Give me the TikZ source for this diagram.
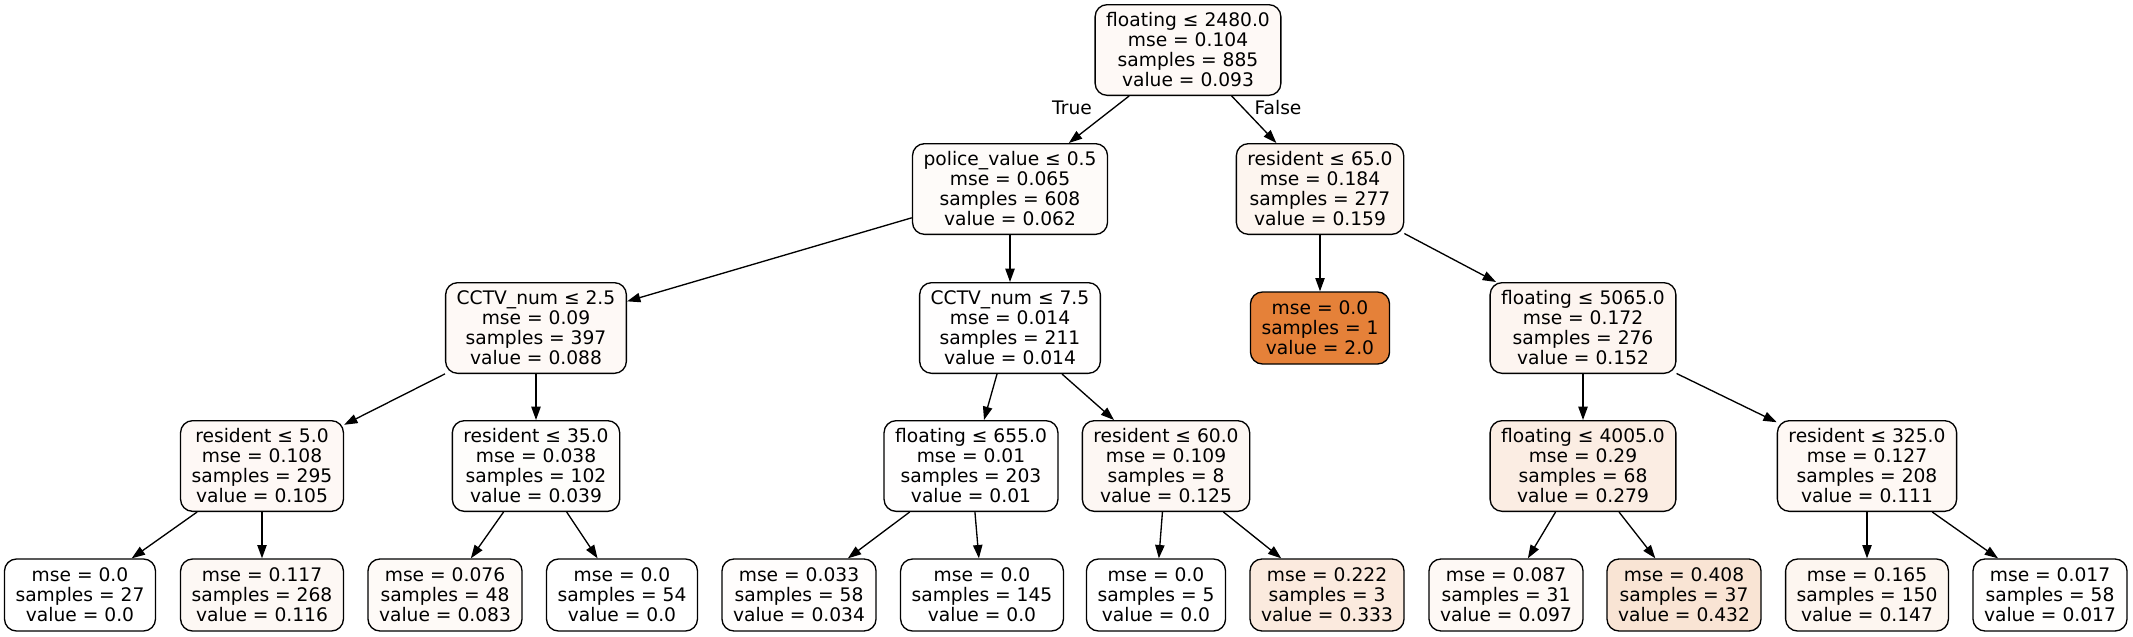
\documentclass[tikz,border=0pt]{standalone}
\usepackage{fontspec}
\setmainfont{DejaVu Sans}
\usetikzlibrary{arrows.meta}
\definecolor{treeorange}{HTML}{E58139}

\begin{document}
\begin{tikzpicture}[x=0.75pt, y=-0.75pt,
    treebox/.style={draw, rounded corners=9pt, line width=1pt, align=center,
        font=\fontsize{14pt}{15pt}\selectfont, inner xsep=8.3pt, inner ysep=0pt},
    splitbox/.style={treebox, minimum height=68pt},
    leafbox/.style={treebox, minimum height=54pt},
    branch/.style={line width=1pt, -{Triangle[length=10pt,width=7pt]}},
    lbl/.style={font=\fontsize{14pt}{15pt}\selectfont}]
    \useasboundingbox (0,0) rectangle (2133,636);

    % root
    \node[splitbox, fill=treeorange!4.65!white] (n0) at (1188,50) {floating ≤ 2480.0\\mse = 0.104\\samples = 885\\value = 0.093};

    % depth 1
    \node[splitbox, fill=treeorange!3.1!white] (n1) at (1010,189) {police\_value ≤ 0.5\\mse = 0.065\\samples = 608\\value = 0.062};
    \node[splitbox, fill=treeorange!7.95!white] (n16) at (1320,189) {resident ≤ 65.0\\mse = 0.184\\samples = 277\\value = 0.159};

    % depth 2
    \node[splitbox, fill=treeorange!4.4!white] (n2) at (536,328) {CCTV\_num ≤ 2.5\\mse = 0.09\\samples = 397\\value = 0.088};
    \node[splitbox, fill=treeorange!0.7!white] (n9) at (1010,328) {CCTV\_num ≤ 7.5\\mse = 0.014\\samples = 211\\value = 0.014};
    \node[leafbox, fill=treeorange] (n17) at (1320,328) {mse = 0.0\\samples = 1\\value = 2.0};
    \node[splitbox, fill=treeorange!7.6!white] (n18) at (1583,328) {floating ≤ 5065.0\\mse = 0.172\\samples = 276\\value = 0.152};

    % depth 3
    \node[splitbox, fill=treeorange!5.25!white] (n3) at (262,466) {resident ≤ 5.0\\mse = 0.108\\samples = 295\\value = 0.105};
    \node[splitbox, fill=treeorange!1.95!white] (n6) at (536,466) {resident ≤ 35.0\\mse = 0.038\\samples = 102\\value = 0.039};
    \node[splitbox, fill=treeorange!0.5!white] (n10) at (971,466) {floating ≤ 655.0\\mse = 0.01\\samples = 203\\value = 0.01};
    \node[splitbox, fill=treeorange!6.25!white] (n13) at (1166,466) {resident ≤ 60.0\\mse = 0.109\\samples = 8\\value = 0.125};
    \node[splitbox, fill=treeorange!13.95!white] (n19) at (1583,466) {floating ≤ 4005.0\\mse = 0.29\\samples = 68\\value = 0.279};
    \node[splitbox, fill=treeorange!5.55!white] (n22) at (1867,466) {resident ≤ 325.0\\mse = 0.127\\samples = 208\\value = 0.111};

    % leaves
    \node[leafbox, fill=white] (n4) at (80,595) {mse = 0.0\\samples = 27\\value = 0.0};
    \node[leafbox, fill=treeorange!5.8!white] (n5) at (262,595) {mse = 0.117\\samples = 268\\value = 0.116};
    \node[leafbox, fill=treeorange!4.15!white] (n7) at (445,595) {mse = 0.076\\samples = 48\\value = 0.083};
    \node[leafbox, fill=white] (n8) at (622,595) {mse = 0.0\\samples = 54\\value = 0.0};
    \node[leafbox, fill=treeorange!1.7!white] (n11) at (799,595) {mse = 0.033\\samples = 58\\value = 0.034};
    \node[leafbox, fill=white] (n12) at (982,595) {mse = 0.0\\samples = 145\\value = 0.0};
    \node[leafbox, fill=white] (n14) at (1156,595) {mse = 0.0\\samples = 5\\value = 0.0};
    \node[leafbox, fill=treeorange!16.65!white] (n15) at (1327,595) {mse = 0.222\\samples = 3\\value = 0.333};
    \node[leafbox, fill=treeorange!4.85!white] (n20) at (1506,595) {mse = 0.087\\samples = 31\\value = 0.097};
    \node[leafbox, fill=treeorange!21.6!white] (n21) at (1684,595) {mse = 0.408\\samples = 37\\value = 0.432};
    \node[leafbox, fill=treeorange!7.35!white] (n23) at (1867,595) {mse = 0.165\\samples = 150\\value = 0.147};
    \node[leafbox, fill=treeorange!0.85!white] (n24) at (2050,595) {mse = 0.017\\samples = 58\\value = 0.017};

    % branches
    \draw[branch] (n0) -- (n1);
    \draw[branch] (n0) -- (n16);
    \draw[branch] (n1) -- (n2);
    \draw[branch] (n1) -- (n9);
    \draw[branch] (n16) -- (n17);
    \draw[branch] (n16) -- (n18);
    \draw[branch] (n2) -- (n3);
    \draw[branch] (n2) -- (n6);
    \draw[branch] (n9) -- (n10);
    \draw[branch] (n9) -- (n13);
    \draw[branch] (n18) -- (n19);
    \draw[branch] (n18) -- (n22);
    \draw[branch] (n3) -- (n4);
    \draw[branch] (n3) -- (n5);
    \draw[branch] (n6) -- (n7);
    \draw[branch] (n6) -- (n8);
    \draw[branch] (n10) -- (n11);
    \draw[branch] (n10) -- (n12);
    \draw[branch] (n13) -- (n14);
    \draw[branch] (n13) -- (n15);
    \draw[branch] (n19) -- (n20);
    \draw[branch] (n19) -- (n21);
    \draw[branch] (n22) -- (n23);
    \draw[branch] (n22) -- (n24);

    \node[lbl] (ltrue) at (1072,108) {True};
    \node[lbl] (lfalse) at (1278,108) {False};
\end{tikzpicture}
\end{document}
